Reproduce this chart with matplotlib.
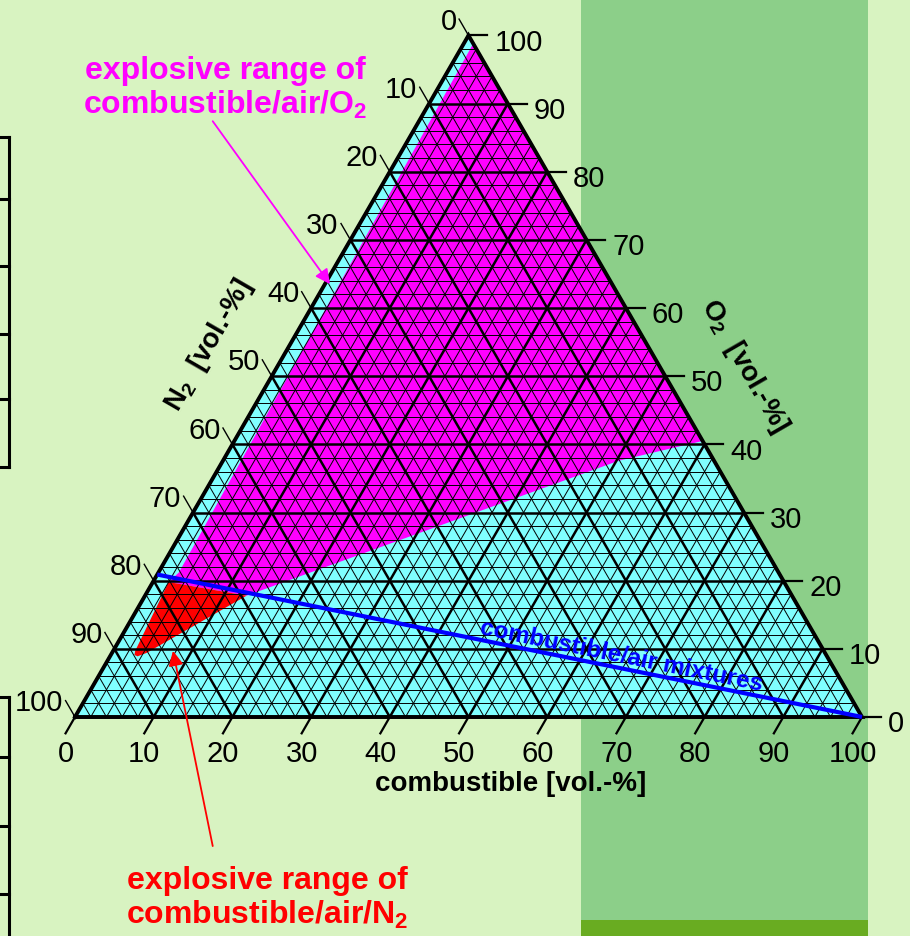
#!/usr/bin/env python3

import matplotlib

matplotlib.use("Agg")

import matplotlib.pyplot as plt
import numpy as np
from matplotlib.lines import Line2D
from matplotlib.patches import Polygon, Rectangle

plt.rcParams["font.family"] = ["Liberation Sans", "DejaVu Sans"]
plt.rcParams["mathtext.fontset"] = "custom"
plt.rcParams["mathtext.rm"] = "Liberation Sans"
plt.rcParams["mathtext.bf"] = "Liberation Sans:bold"

# axis ticks, vol.-%
TICKS = list(range(0, 101, 10))
FINE_STEP = 2

# O2 content of air
AIR_O2 = 20.9

# explosive range, combustible/O2 enriched part (combustible %, O2 %)
MAGENTA_C = [1.2, 59.5, 50.3, 12.9, 2.0, 2.6]
MAGENTA_O = [98.8, 40.5, 37.6, 17.8, 19.8, 21.2]

# explosive range, combustible/air/N2 part
RED_C = [2.0, 12.9, 4.4, 3.5, 3.0, 2.8]
RED_O = [19.8, 17.8, 9.4, 8.9, 9.1, 9.7]

BG = "#d8f3c1"
PANEL = "#8ccf89"
STRIP = "#69ac21"
CYAN = "#80ffff"
MAGENTA = "#ff00ff"
RED = "#ff0000"
BLUE = "#0000ff"

H = np.sqrt(3) / 2


def tern(c, o):
    c = np.asarray(c, dtype=float)
    o = np.asarray(o, dtype=float)
    return c + o / 2.0, o * H


def seg(ax, c0, o0, c1, o1, **kw):
    x, y = tern([c0, c1], [o0, o1])
    ax.plot(x, y, solid_capstyle="butt", **kw)


def main():
    fig = plt.figure(figsize=(9.1, 9.37), dpi=100, facecolor=BG)

    # background panels of the slide
    fig.add_artist(Rectangle((581 / 910, 0), 287 / 910, 1, transform=fig.transFigure,
                             facecolor=PANEL, edgecolor="none", zorder=0))
    fig.add_artist(Rectangle((581 / 910, 0), 287 / 910, 16 / 937, transform=fig.transFigure,
                             facecolor=STRIP, edgecolor="none", zorder=0))

    # frames of neighbouring plots, cut off at the left border
    for top, bottom, ticks in [(138, 468, [138, 200, 267, 335, 400, 468]),
                               (698, 940, [698, 758, 827, 895])]:
        fig.add_artist(Line2D([8.5 / 910, 8.5 / 910], [1 - top / 937, 1 - bottom / 937],
                              transform=fig.transFigure, color="black", lw=2.2))
        for t in ticks:
            fig.add_artist(Line2D([0, 8.5 / 910], [1 - t / 937, 1 - t / 937],
                                  transform=fig.transFigure, color="black", lw=2.2))

    ax = fig.add_axes([0, 0, 1, 1])
    ax.set_xlim(-9.53, 106.1)
    ax.set_ylim(-27.83, 91.23)
    ax.axis("off")
    ax.patch.set_alpha(0)

    # fills
    x, y = tern([0, 100, 0], [0, 0, 100])
    ax.add_patch(Polygon(np.column_stack([x, y]), closed=True, facecolor=CYAN,
                         edgecolor="none", zorder=1))
    x, y = tern(MAGENTA_C, MAGENTA_O)
    ax.add_patch(Polygon(np.column_stack([x, y]), closed=True, facecolor=MAGENTA,
                         edgecolor="none", zorder=1.1))
    x, y = tern(RED_C, RED_O)
    ax.add_patch(Polygon(np.column_stack([x, y]), closed=True, facecolor=RED,
                         edgecolor="none", zorder=1.2, joinstyle="round"))

    # triangular grid
    for k in range(0, 101, FINE_STEP):
        major = k % 10 == 0
        kw = dict(color="black", lw=1.8 if major else 0.7, zorder=2)
        seg(ax, k, 0, k, 100 - k, **kw)               # const. combustible
        seg(ax, 0, k, 100 - k, k, **kw)               # const. O2
        seg(ax, 100 - k, 0, 0, 100 - k, **kw)         # const. N2

    # outline
    x, y = tern([0, 100, 0, 0], [0, 0, 100, 0])
    ax.plot(x, y, color="black", lw=2.8, zorder=3, solid_joinstyle="miter")

    # combustible/air line
    seg(ax, 0, AIR_O2, 100, 0, color=BLUE, lw=3.0, zorder=4)
    x0, y0 = tern(0, AIR_O2)
    x1, y1 = tern(100, 0)
    ang = np.degrees(np.arctan2(y1 - y0, x1 - x0))
    ax.text(69.4, 7.9, "combustible/air mixtures", color=BLUE, fontsize=17.5,
            fontweight="bold", rotation=ang, ha="center", va="center", zorder=5)

    tl = 2.4
    fs = 21
    for v in TICKS:
        # combustible, bottom
        x, y = tern(v, 0)
        dx, dy = -0.5 * tl, -H * tl
        ax.plot([x, x + dx], [y, y + dy], color="black", lw=1.6, zorder=3)
        ax.text(x + dx, y + dy - 2.5, str(v), fontsize=fs, ha="center", va="center")
        # O2, right
        x, y = tern(100 - v, v)
        ax.plot([x, x + tl], [y, y], color="black", lw=1.6, zorder=3)
        ax.text(x + tl + 0.9, y - 0.8, str(v), fontsize=fs, ha="left", va="center")
        # N2, left
        x, y = tern(0, 100 - v)
        dx, dy = -0.5 * tl, H * tl
        ax.plot([x, x + dx], [y, y + dy], color="black", lw=1.0, zorder=3)
        ax.text(x + dx - 0.3, y + dy - 0.2, str(v), fontsize=fs, ha="right", va="center")

    ax.text(55.4, -8.4, "combustible [vol.-%]", fontsize=20, fontweight="bold",
            ha="center", va="center")
    ax.text(17.0, 47.4, r"$\mathbf{N_2}$  [vol.-%]", fontsize=20, fontweight="bold",
            rotation=60, ha="center", va="center")
    ax.text(85.0, 44.7, r"$\mathbf{O_2}$  [vol.-%]", fontsize=20, fontweight="bold",
            rotation=-60, ha="center", va="center")

    # callouts
    ax.text(19.1, 80.0, "explosive range of\ncombustible/air/O$_\\mathbf{2}$", color=MAGENTA,
            fontsize=23, fontweight="bold", ha="center", va="center", linespacing=1.1)
    ax.annotate("", xy=(32.4, 55.0), xytext=(17.5, 75.7),
                arrowprops=dict(arrowstyle="-|>", color=MAGENTA, lw=1.3,
                                mutation_scale=22, shrinkA=0, shrinkB=0), zorder=6)

    ax.text(24.4, -22.9, "explosive range of\ncombustible/air/N$_\\mathbf{2}$", color=RED,
            fontsize=23, fontweight="bold", ha="center", va="center", linespacing=1.1)
    ax.annotate("", xy=(12.45, 8.4), xytext=(17.5, -16.4),
                arrowprops=dict(arrowstyle="-|>", color=RED, lw=1.3,
                                mutation_scale=22, shrinkA=0, shrinkB=0), zorder=6)

    fig.savefig("out.png", dpi=100, facecolor=BG)
    plt.close(fig)


if __name__ == "__main__":
    main()
